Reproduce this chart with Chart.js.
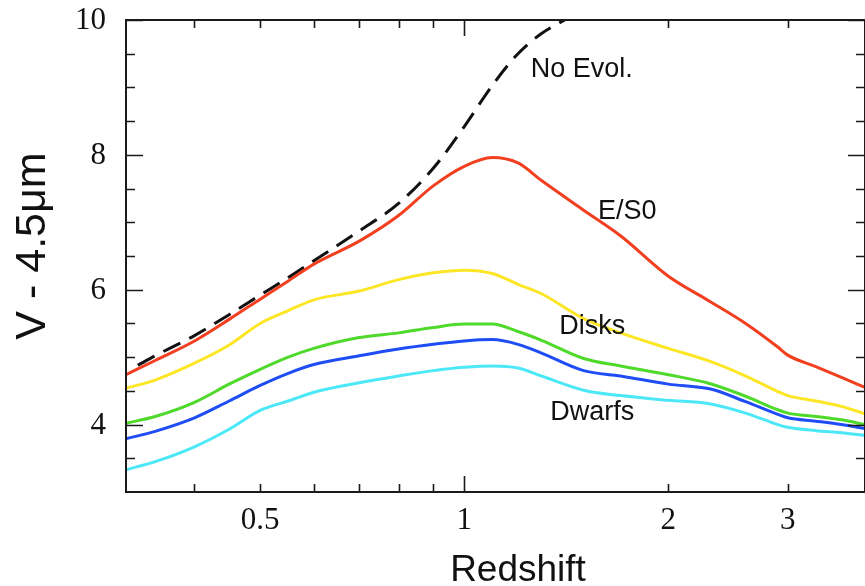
<!DOCTYPE html>
<html>
<head>
<meta charset="utf-8">
<title>V - 4.5um vs Redshift</title>
<script src="https://cdn.jsdelivr.net/npm/chart.js@4.4.1/dist/chart.umd.min.js"></script>
<style>
    html, body { margin: 0; padding: 0; background: #fff; }
    #wrap { width: 865px; height: 586px; }
</style>
</head>
<body>
<div id="wrap"><canvas id="colourChart" width="865" height="586"></canvas></div>
<script>
// Redshift grid shared by the model tracks
const redshift = [0.317, 0.35, 0.4, 0.45, 0.5, 0.55, 0.6, 0.7, 0.8, 0.9, 1.0, 1.1, 1.2, 1.3, 1.5, 1.7, 2.0, 2.3, 2.6, 2.9, 3.0, 3.3, 3.6, 3.9];

// No evolution track (leaves the top of the plot)
const noEvolRedshift = [0.33, 0.35, 0.4, 0.45, 0.5, 0.55, 0.6, 0.7, 0.8, 0.9, 1.0, 1.1, 1.2, 1.3, 1.4, 1.5];
const noEvol = [4.88, 5.02, 5.32, 5.63, 5.92, 6.18, 6.43, 6.87, 7.28, 7.80, 8.42, 9.03, 9.50, 9.80, 9.99, 10.15];

const ellipticals = [4.74, 4.95, 5.24, 5.56, 5.86, 6.13, 6.38, 6.72, 7.10, 7.54, 7.83, 7.96, 7.88, 7.62, 7.18, 6.80, 6.20, 5.83, 5.50, 5.15, 5.03, 4.86, 4.70, 4.55];
const disksEarly = [4.54, 4.66, 4.91, 5.18, 5.50, 5.69, 5.85, 5.98, 6.15, 6.25, 6.29, 6.24, 6.08, 5.94, 5.57, 5.36, 5.13, 4.94, 4.72, 4.49, 4.43, 4.35, 4.27, 4.16];
const disksLate = [4.02, 4.12, 4.33, 4.60, 4.82, 5.00, 5.13, 5.29, 5.36, 5.44, 5.49, 5.49, 5.38, 5.25, 4.98, 4.87, 4.74, 4.61, 4.42, 4.22, 4.17, 4.12, 4.07, 4.00];
const dwarfsBright = [3.79, 3.90, 4.10, 4.35, 4.58, 4.76, 4.89, 5.02, 5.12, 5.19, 5.24, 5.26, 5.19, 5.06, 4.80, 4.72, 4.60, 4.53, 4.34, 4.15, 4.10, 4.05, 4.00, 3.94];
const dwarfsFaint = [3.33, 3.45, 3.67, 3.93, 4.21, 4.35, 4.48, 4.62, 4.72, 4.80, 4.85, 4.87, 4.84, 4.72, 4.51, 4.43, 4.36, 4.31, 4.17, 4.00, 3.96, 3.91, 3.88, 3.84];

// Axis ticks
const xMajorTicks = [1];
const xMinorTicks = [0.4, 0.5, 0.6, 0.7, 0.8, 0.9, 2, 3];
const xTickLabels = [0.5, 1, 2, 3];
const yMajorTicks = [4, 6, 8, 10];
const yMinorTicks = [3.5, 4.5, 5, 5.5, 6.5, 7, 7.5, 8.5, 9, 9.5];
const yTickLabels = [4, 6, 8, 10];

// Text labels inside the plot, in data coordinates
const trackLabels = ['No Evol.', 'E/S0', 'Disks', 'Dwarfs'];
const trackLabelRedshift = [1.49, 1.74, 1.545, 1.545];
const trackLabelColour = [9.26, 7.16, 5.46, 4.18];

const toPoints = (xs, ys) => xs.map((x, i) => ({ x: x, y: ys[i] }));

const chartModule = {
    init: () => {
        const ctx = document.getElementById('colourChart');
        chartModule.chart = new Chart(ctx, {
            type: 'line',
            data: { datasets: chartModule.buildDatasets() },
            options: {
                responsive: false,
                animation: false,
                layout: { padding: { left: 126, top: 20, right: 0, bottom: 94 } },
                elements: {
                    point: { radius: 0 },
                    line: { borderWidth: 3, cubicInterpolationMode: 'monotone' }
                },
                scales: {
                    // bounds 'data' keeps the log axis from snapping min to 0.3
                    x: { type: 'logarithmic', min: 0.317, max: 3.9, bounds: 'data', display: false },
                    y: { type: 'linear', min: 3, max: 10, bounds: 'data', display: false }
                },
                plugins: {
                    legend: { display: false },
                    tooltip: { enabled: false }
                }
            },
            plugins: [chartModule.framePlugin]
        });
    },

    buildDatasets: () => {
        const track = (label, ys, colour) => ({
            label: label,
            data: toPoints(redshift, ys),
            borderColor: colour,
            fill: false
        });
        return [
            track('Dwarfs faint', dwarfsFaint, '#4de8f7'),
            track('Dwarfs bright', dwarfsBright, '#1f4df5'),
            track('Disks late', disksLate, '#4fd92a'),
            track('Disks early', disksEarly, '#fce626'),
            track('E/S0', ellipticals, '#f23f20'),
            {
                label: 'No Evol.',
                data: toPoints(noEvolRedshift, noEvol),
                borderColor: '#111',
                borderDash: [19, 10],
                fill: false
            }
        ];
    },

    // Box, inward ticks on all four sides, tick labels, titles and track names
    framePlugin: {
        id: 'frame',
        afterDraw: (chart) => {
            const c = chart.ctx;
            const area = chart.chartArea;
            const xs = chart.scales.x;
            const ys = chart.scales.y;

            c.save();
            c.strokeStyle = '#1a1a1a';
            c.lineWidth = 2;
            c.strokeRect(area.left, area.top, area.right - area.left, area.bottom - area.top);

            c.lineWidth = 1.6;
            const yTick = (v, len) => {
                const py = Math.round(ys.getPixelForValue(v)) + 0.5;
                c.beginPath();
                c.moveTo(area.left, py); c.lineTo(area.left + len, py);
                c.moveTo(area.right, py); c.lineTo(area.right - len, py);
                c.stroke();
            };
            const xTick = (v, len) => {
                const px = Math.round(xs.getPixelForValue(v)) + 0.5;
                c.beginPath();
                c.moveTo(px, area.bottom); c.lineTo(px, area.bottom - len);
                c.moveTo(px, area.top); c.lineTo(px, area.top + len);
                c.stroke();
            };
            yMajorTicks.forEach(v => yTick(v, 17));
            yMinorTicks.forEach(v => yTick(v, 9));
            xMajorTicks.forEach(v => xTick(v, 16));
            xMinorTicks.forEach(v => xTick(v, 8));

            // Tick labels
            c.fillStyle = '#111';
            c.font = '31px "Liberation Serif", "DejaVu Serif", serif';
            c.textAlign = 'right';
            c.textBaseline = 'middle';
            yTickLabels.forEach(v => c.fillText(String(v), 106, ys.getPixelForValue(v) + 1));
            c.textAlign = 'center';
            c.textBaseline = 'top';
            xTickLabels.forEach(v => c.fillText(String(v), xs.getPixelForValue(v), area.bottom + 13));

            // Axis titles
            c.font = '37px "Liberation Sans", Arial, sans-serif';
            c.textBaseline = 'alphabetic';
            c.fillText('Redshift', 518, 581);
            c.save();
            c.translate(45, 246);
            c.rotate(-Math.PI / 2);
            c.font = '43px "Liberation Sans", Arial, sans-serif';
            c.fillText('V - 4.5\u03bcm', 0, 0);
            c.restore();

            // Track names
            c.font = '27px "Liberation Sans", Arial, sans-serif';
            c.textBaseline = 'middle';
            trackLabels.forEach((t, i) => {
                c.fillText(t, xs.getPixelForValue(trackLabelRedshift[i]), ys.getPixelForValue(trackLabelColour[i]));
            });
            c.restore();
        }
    }
};

document.addEventListener('DOMContentLoaded', () => {
    chartModule.init();
});
</script>
</body>
</html>
